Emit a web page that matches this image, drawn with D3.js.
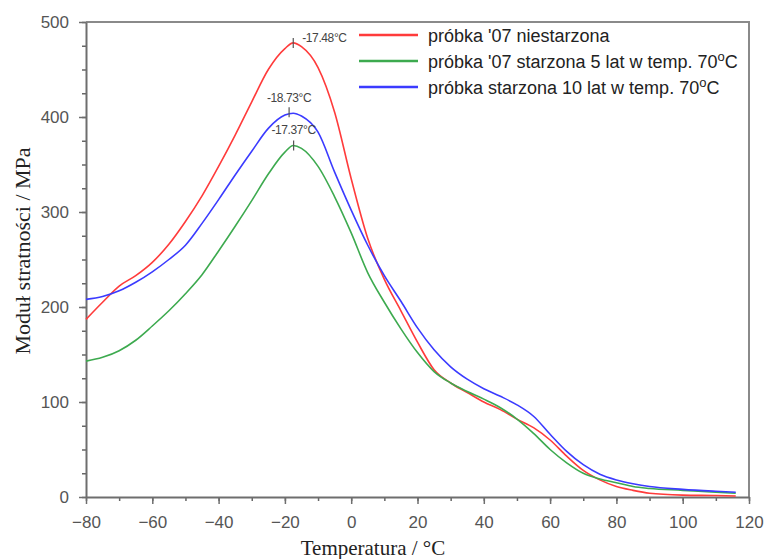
<!DOCTYPE html>
<html>
<head>
<meta charset="utf-8">
<script src="https://cdn.jsdelivr.net/npm/d3@7"></script>
<style>
  body { margin: 0; background: #fff; }
  svg { display: block; }
</style>
</head>
<body>
<div id="chart"></div>
<script>
//********************************************************************//
//                    DATA
//*******************************************************************//

  var temps = [-80, -75, -70, -65, -60, -55, -50, -45, -40, -35, -30, -25, -20, -17.5, -15, -10, -5, 0,
               5, 10, 15, 20, 25, 30, 35, 40, 45, 50, 55, 60, 65, 70, 75, 80, 85, 90, 100, 110, 116];

  var redValues   = [187, 205, 222, 233, 247, 266, 290, 317, 348, 381, 416, 450, 472, 478, 474, 452, 405, 335,
                     272, 229, 196, 163, 134, 120, 110, 100, 92, 82, 73, 60, 43, 28, 18, 11, 7, 4, 2, 1.5, 1];
  var greenValues = [143, 147, 154, 165, 180, 196, 214, 234, 259, 285, 312, 340, 363, 370, 367, 348, 316, 278,
                     236, 205, 177, 152, 132, 120, 111, 103, 94, 82, 67, 50, 36, 25, 19, 15, 11, 9, 7, 5, 4];
  var blueValues  = [208, 211, 217, 226, 237, 250, 265, 288, 313, 339, 364, 388, 402, 404, 401, 384, 342, 302,
                     265, 233, 206, 178, 155, 137, 124, 114, 106, 97, 85, 66, 48, 34, 24, 18, 14, 11, 8, 6, 5];

  var seriesNames = ["próbka '07 niestarzona",
                     "próbka '07 starzona 5 lat w temp. 70",
                     "próbka starzona 10 lat w temp. 70"];
  var seriesColors = ["#ff3b3b", "#3daa4f", "#3b3bff"];

  // peak annotations (temperature, value, label)
  var peakTemps  = [-17.48, -17.37, -18.73];
  var peakValues = [478, 370, 405];
  var peakLabels = ["-17.48°C", "-17.37°C", "-18.73°C"];

  var xTicks = [-80, -60, -40, -20, 0, 20, 40, 60, 80, 100, 120];
  var yTicks = [0, 100, 200, 300, 400, 500];

//********************************************************************//
//                    CHART
//*******************************************************************//

  var width = 764,
      height = 559;

  var svg = d3.select("#chart")
              .append("svg")
              .attr("width", width)
              .attr("height", height);

  var x = d3.scaleLinear().domain([-80, 120]).range([86, 749]);
  var y = d3.scaleLinear().domain([0, 500]).range([497, 22]);

  // frame (top and right)
  svg.append("path")
     .attr("d", "M" + x(-80) + "," + y(500) + "H" + x(120) + "V" + y(0))
     .attr("fill", "none")
     .attr("stroke", "#8a8a8a")
     .attr("stroke-width", 2);

  // minor ticks
  svg.append("g")
     .attr("transform", "translate(" + x(-80) + ",0)")
     .call(d3.axisLeft(y).tickValues(d3.range(0, 501, 25)).tickSize(4).tickFormat(""))
     .call(function(g){ g.select(".domain").remove(); })
     .selectAll("line").attr("stroke", "#666").attr("stroke-width", 1.5);

  svg.append("g")
     .attr("transform", "translate(0," + y(0) + ")")
     .call(d3.axisBottom(x).tickValues(d3.range(-80, 121, 10)).tickSize(4).tickFormat(""))
     .call(function(g){ g.select(".domain").remove(); })
     .selectAll("line").attr("stroke", "#666").attr("stroke-width", 1.5);

  // major axes
  var yAxis = svg.append("g")
     .attr("transform", "translate(" + x(-80) + ",0)")
     .call(d3.axisLeft(y).tickValues(yTicks).tickSize(7).tickPadding(10).tickSizeOuter(0));

  var xAxis = svg.append("g")
     .attr("transform", "translate(0," + y(0) + ")")
     .call(d3.axisBottom(x).tickValues(xTicks).tickSize(7).tickPadding(12).tickSizeOuter(0));

  [yAxis, xAxis].forEach(function(g){
      g.select(".domain").attr("stroke", "#6e6e6e").attr("stroke-width", 2);
      g.selectAll(".tick line").attr("stroke", "#6e6e6e").attr("stroke-width", 1.5);
      g.selectAll(".tick text")
       .attr("fill", "#555")
       .style("font-family", "'Liberation Sans', Arial, sans-serif")
       .style("font-size", "17px");
  });

  // curves
  var line = d3.line()
               .x(function(d){ return x(d[0]); })
               .y(function(d){ return y(d[1]); })
               .curve(d3.curveMonotoneX);

  var allValues = [redValues, greenValues, blueValues];

  allValues.forEach(function(vals, i){
      svg.append("path")
         .datum(temps.map(function(t, j){ return [t, vals[j]]; }))
         .attr("d", line)
         .attr("fill", "none")
         .attr("stroke", seriesColors[i])
         .attr("stroke-width", 1.6);
  });

  // peak markers
  peakTemps.forEach(function(t, i){
      svg.append("line")
         .attr("x1", x(t)).attr("x2", x(t))
         .attr("y1", y(peakValues[i]) - 5).attr("y2", y(peakValues[i]) + 5)
         .attr("stroke", "#555")
         .attr("stroke-width", 1.2);
  });

  var annot = svg.append("g")
                 .style("font-family", "'Liberation Sans', Arial, sans-serif")
                 .style("font-size", "12px")
                 .attr("fill", "#444")
                 .style("letter-spacing", "-0.4px");

  // red label sits to the right of its marker, the others above theirs
  annot.append("text")
       .attr("x", x(peakTemps[0]) + 9)
       .attr("y", y(peakValues[0]) - 1)
       .text(peakLabels[0]);

  annot.append("text")
       .attr("x", x(peakTemps[1]))
       .attr("y", y(peakValues[1]) - 12)
       .attr("text-anchor", "middle")
       .text(peakLabels[1]);

  annot.append("text")
       .attr("x", x(peakTemps[2]))
       .attr("y", y(peakValues[2]) - 10)
       .attr("text-anchor", "middle")
       .text(peakLabels[2]);

  // legend
  var legend = svg.append("g")
                  .style("font-family", "'Liberation Sans', Arial, sans-serif")
                  .style("font-size", "18px");

  seriesNames.forEach(function(name, i){
      var ly = 35 + i * 26;
      legend.append("line")
            .attr("x1", 359).attr("x2", 418)
            .attr("y1", ly).attr("y2", ly)
            .attr("stroke", seriesColors[i])
            .attr("stroke-width", 2.5);
      var t = legend.append("text")
                    .attr("x", 428)
                    .attr("y", ly + 6.5)
                    .attr("fill", "#222")
                    .text(name);
      if (i > 0) {
          t.append("tspan").attr("dy", -7).style("font-size", "13px").text("o");
          t.append("tspan").attr("dy", 7).text("C");
      }
  });

  // axis titles
  svg.append("text")
     .attr("x", 373)
     .attr("y", 555)
     .attr("text-anchor", "middle")
     .attr("fill", "#222")
     .style("font-family", "'Liberation Serif', 'Times New Roman', serif")
     .style("font-size", "21px")
     .text("Temperatura / °C");

  svg.append("text")
     .attr("transform", "translate(30,251) rotate(-90)")
     .attr("text-anchor", "middle")
     .attr("fill", "#222")
     .style("font-family", "'Liberation Serif', 'Times New Roman', serif")
     .style("font-size", "22px")
     .text("Moduł stratności / MPa");
</script>
</body>
</html>
